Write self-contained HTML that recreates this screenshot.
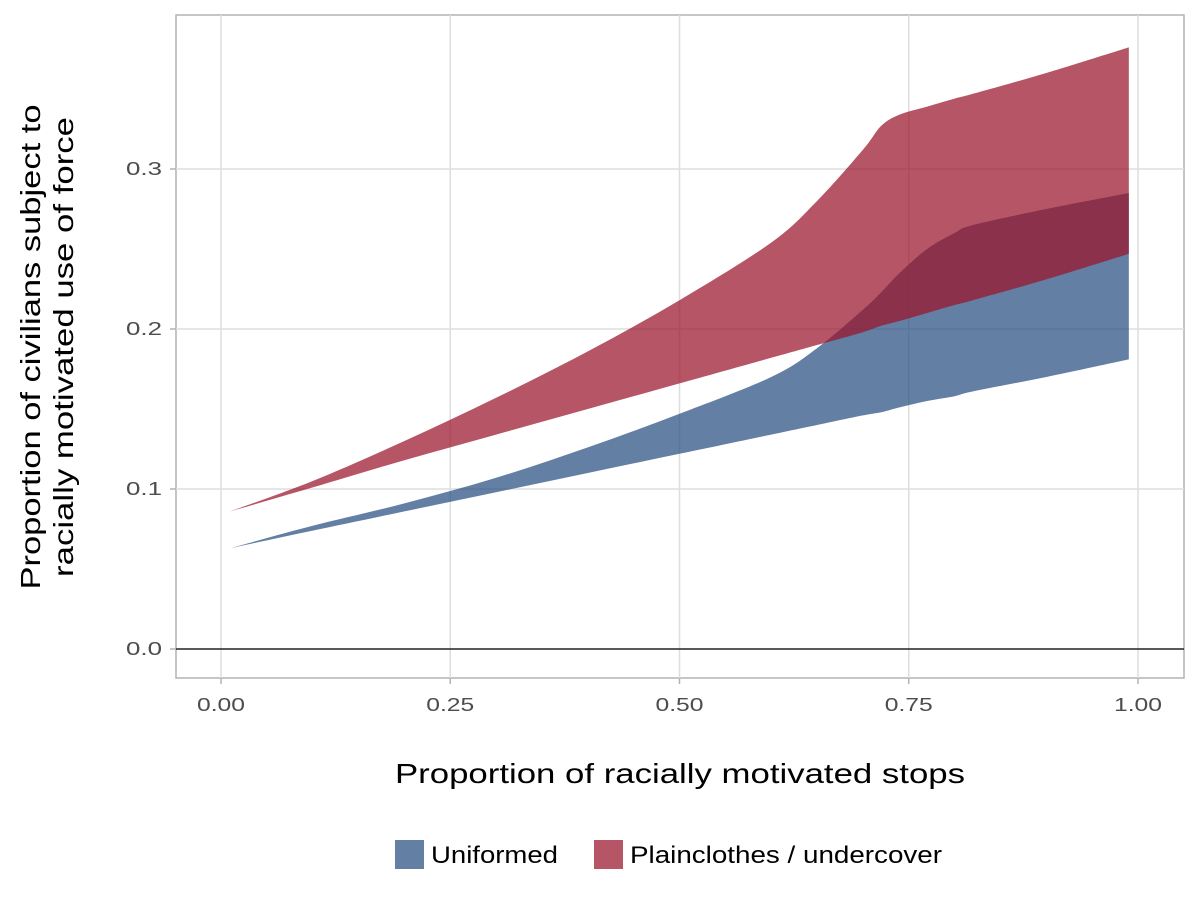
<!DOCTYPE html>
<html><head><meta charset="utf-8"><style>
body{margin:0;background:#fff;}
svg text{font-family:"Liberation Sans",sans-serif;}
</style></head><body>
<svg id="chart" width="1200" height="900" xmlns="http://www.w3.org/2000/svg"></svg>
<script>
const xTicks=[0,0.25,0.5,0.75,1.0];
const xTickLabels=["0.00","0.25","0.50","0.75","1.00"];
const yTicks=[0,0.1,0.2,0.3];
const yTickLabels=["0.0","0.1","0.2","0.3"];
const xs=[0.01,0.1,0.2,0.3,0.4,0.5,0.6,0.65,0.7,0.72,0.74,0.77,0.8,0.82,0.9,0.99];
const uniLow=[0.063,0.074,0.086,0.098,0.110,0.122,0.134,0.140,0.146,0.148,0.151,0.155,0.158,0.161,0.170,0.181];
const uniHigh=[0.063,0.077,0.091,0.107,0.126,0.147,0.170,0.188,0.212,0.223,0.235,0.250,0.260,0.265,0.275,0.285];
const plainLow=[0.086,0.101,0.118,0.134,0.150,0.166,0.182,0.190,0.198,0.202,0.205,0.210,0.215,0.218,0.231,0.247];
const plainHigh=[0.086,0.105,0.130,0.157,0.186,0.218,0.254,0.280,0.312,0.327,0.334,0.339,0.344,0.347,0.360,0.376];
const NS="http://www.w3.org/2000/svg";
const svg=document.getElementById('chart');
const X=v=>221+v*917, Y=v=>649-v*1600;
function mk(t,a,p){const e=document.createElementNS(NS,t);for(const k in a)e.setAttribute(k,a[k]);(p||svg).appendChild(e);return e;}
const panel=mk('rect',{x:176,y:15,width:1008,height:663,fill:'#fff',stroke:'#b3b3b3','stroke-width':1.5});


xTicks.forEach((t,i)=>{
 const g=mk('line',{x1:X(t),x2:X(t),y1:15,y2:678,stroke:'#dedede','stroke-width':1.5});
 
 
 mk('line',{x1:X(t),x2:X(t),y1:678,y2:684,stroke:'#b3b3b3','stroke-width':1.5});
 const l=mk('text',{x:X(t),y:711,'text-anchor':'middle','font-size':18,fill:'#4d4d4d',textLength:48,lengthAdjust:'spacingAndGlyphs'});l.textContent=xTickLabels[i];
 
 
});
yTicks.forEach((t,i)=>{
 const g=mk('line',{x1:176,x2:1184,y1:Y(t),y2:Y(t),stroke:'#dedede','stroke-width':1.5});
 
 
 mk('line',{x1:170,x2:176,y1:Y(t),y2:Y(t),stroke:'#b3b3b3','stroke-width':1.5});
 const l=mk('text',{x:162,y:Y(t)+6,'text-anchor':'end','font-size':18,fill:'#4d4d4d',textLength:36,lengthAdjust:'spacingAndGlyphs'});l.textContent=yTickLabels[i];
 
 
});
function smooth(pts){
 let d='';
 for(let i=0;i<pts.length-1;i++){
  const p0=pts[Math.max(i-1,0)],p1=pts[i],p2=pts[i+1],p3=pts[Math.min(i+2,pts.length-1)];
  const c1=[p1[0]+(p2[0]-p0[0])/6,p1[1]+(p2[1]-p0[1])/6];
  const c2=[p2[0]-(p3[0]-p1[0])/6,p2[1]-(p3[1]-p1[1])/6];
  d+='C'+c1+' '+c2+' '+p2;
 }
 return d;
}
function ribbon(lo,hi,fill,name){
 const top=xs.map((x,i)=>[X(x),Y(hi[i])]);
 const bot=xs.map((x,i)=>[X(x),Y(lo[i])]).reverse();
 const d='M'+top[0]+smooth(top)+'L'+bot[0]+smooth(bot)+'Z';
 const p=mk('path',{d:d,fill:fill,'fill-opacity':0.72});
 
 
}
ribbon(uniLow,uniHigh,'#284d81','uniformed-ribbon');
ribbon(plainLow,plainHigh,'#9a1429','plainclothes-ribbon');
const z=mk('line',{x1:176,x2:1184,y1:Y(0),y2:Y(0),stroke:'#000','stroke-width':1.2});


const xt=mk('text',{x:395,y:783,'font-size':28,fill:'#000',textLength:570,lengthAdjust:'spacingAndGlyphs'});xt.textContent='Proportion of racially motivated stops';


const yt=mk('text',{transform:'translate(40,347) rotate(-90)','text-anchor':'middle','font-size':28,fill:'#000'});


const t1=mk('tspan',{x:0,dy:0,textLength:485,lengthAdjust:'spacingAndGlyphs'},yt);t1.textContent='Proportion of civilians subject to';
const t2=mk('tspan',{x:0,dy:33,textLength:460,lengthAdjust:'spacingAndGlyphs'},yt);t2.textContent='racially motivated use of force';
const leg=[[395,'#284d81','Uniformed',431,127],[594,'#9a1429','Plainclothes / undercover',630,312]];
leg.forEach(l=>{
 const g=mk('g',{});
 
 
 mk('rect',{x:l[0],y:840,width:29,height:29,fill:l[1],'fill-opacity':0.72},g);
 const t=mk('text',{x:l[3],y:863,'font-size':24,fill:'#000',textLength:l[4],lengthAdjust:'spacingAndGlyphs'},g);t.textContent=l[2];
});
</script>
</body></html>
